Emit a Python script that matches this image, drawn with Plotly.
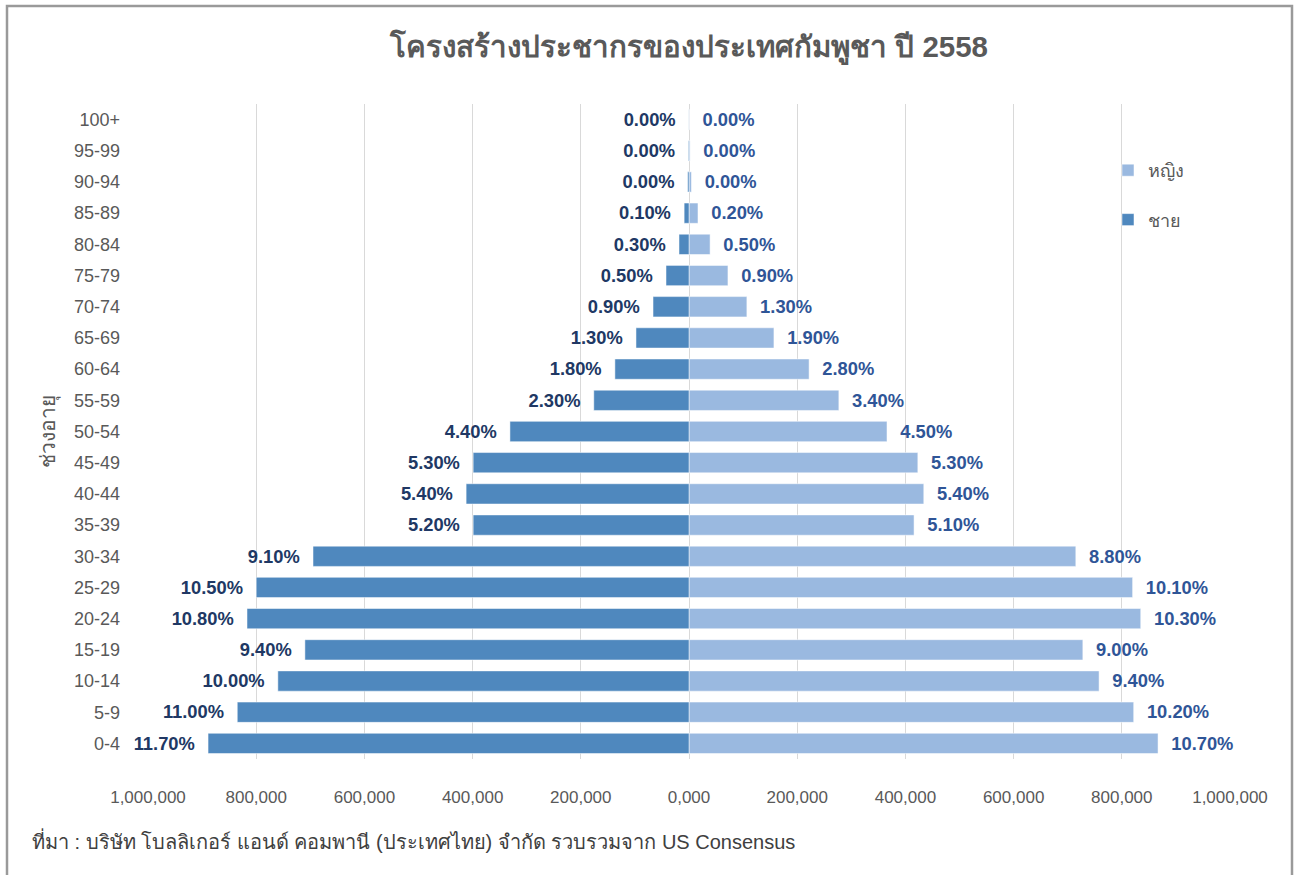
import plotly.graph_objects as go

age_groups = ["0-4", "5-9", "10-14", "15-19", "20-24", "25-29", "30-34", "35-39",
              "40-44", "45-49", "50-54", "55-59", "60-64", "65-69", "70-74",
              "75-79", "80-84", "85-89", "90-94", "95-99", "100+"]
male_pop = [889000, 835000, 760000, 710000, 817000, 800000, 695000, 399000,
            412000, 399000, 331000, 176000, 137000, 98000, 66500,
            42500, 18500, 9000, 2500, 1200, 300]
female_pop = [867000, 822000, 758000, 728000, 835000, 820000, 715000, 416000,
              434000, 423000, 366000, 277000, 222000, 157000, 107000,
              72000, 39000, 16600, 4500, 2000, 600]
male_pct = ["11.70%", "11.00%", "10.00%", "9.40%", "10.80%", "10.50%", "9.10%", "5.20%",
            "5.40%", "5.30%", "4.40%", "2.30%", "1.80%", "1.30%", "0.90%",
            "0.50%", "0.30%", "0.10%", "0.00%", "0.00%", "0.00%"]
female_pct = ["10.70%", "10.20%", "9.40%", "9.00%", "10.30%", "10.10%", "8.80%", "5.10%",
              "5.40%", "5.30%", "4.50%", "3.40%", "2.80%", "1.90%", "1.30%",
              "0.90%", "0.50%", "0.20%", "0.00%", "0.00%", "0.00%"]
tick_vals = [-1000000, -800000, -600000, -400000, -200000, 0,
             200000, 400000, 600000, 800000, 1000000]
tick_text = ["1,000,000", "800,000", "600,000", "400,000", "200,000", "0,000",
             "200,000", "400,000", "600,000", "800,000", "1,000,000"]

title_text = "โครงสร้างประชากรของประเทศกัมพูชา ปี 2558"
source_text = "ที่มา : บริษัท โบลลิเกอร์ แอนด์ คอมพานี (ประเทศไทย) จำกัด รวบรวมจาก US Consensus"

FONT = "Liberation Sans, Arial, Noto Sans, sans-serif"
NB = "\u00a0"

PL, PR, PT, PB = 148, 1230, 104, 759
PW, PH = PR - PL, PB - PT

fig = go.Figure()
fig.add_trace(go.Bar(
    y=age_groups, x=female_pop, orientation="h", name="หญิง",
    marker=dict(color="#9AB9E0", line=dict(color="#FFFFFF", width=0.5)),
    text=[NB * 2 + t for t in female_pct], textposition="outside", cliponaxis=False,
    textfont=dict(family=FONT, size=19, color="#2F5597", weight="bold"),
    legendgroup="f", hoverinfo="skip",
))
fig.add_trace(go.Bar(
    y=age_groups, x=[-v for v in male_pop], orientation="h", name="ชาย",
    marker=dict(color="#4F88BE", line=dict(color="#FFFFFF", width=0.5)),
    text=[t + NB * 2 for t in male_pct], textposition="outside", cliponaxis=False,
    textfont=dict(family=FONT, size=19, color="#203864", weight="bold"),
    legendgroup="m", hoverinfo="skip",
))

fig.update_layout(
    width=1295, height=875,
    paper_bgcolor="white", plot_bgcolor="white",
    barmode="overlay", bargap=0.35,
    margin=dict(l=PL, r=1295 - PR, t=PT, b=875 - PB, autoexpand=False),
    font=dict(family=FONT, color="#595959", size=16),
    title=dict(text="<b>" + title_text + "</b>", x=0.5, xanchor="center",
               y=1 - 47 / 875, yanchor="middle", xref="paper",
               font=dict(family=FONT, size=29.5, color="#595959")),
    xaxis=dict(range=[-1000000, 1000000], tickvals=tick_vals, ticktext=tick_text,
               showgrid=True, gridcolor="#D9D9D9", gridwidth=1, zeroline=False,
               showline=False, ticks="", ticklabelstandoff=26,
               tickfont=dict(size=17, color="#595959")),
    yaxis=dict(categoryorder="array", categoryarray=age_groups, showgrid=False,
               zeroline=False, showline=False, ticks="", ticklabelstandoff=27,
               tickfont=dict(size=18, color="#595959"),
               title=dict(text="ช่วงอายุ", standoff=12,
                          font=dict(size=21, color="#595959"))),
    legend=dict(x=(1108 - PL) / PW, xref="paper", xanchor="left",
                y=(PB - 152) / PH, yref="paper", yanchor="top",
                traceorder="grouped", tracegroupgap=23,
                font=dict(size=18, color="#595959"),
                bgcolor="rgba(0,0,0,0)"),
    showlegend=True,
)

fig.add_annotation(text=source_text, xref="paper", yref="paper",
                   x=(30 - PL) / PW, y=(PB - 840) / PH, xanchor="left",
                   yanchor="middle", showarrow=False,
                   font=dict(family=FONT, size=20, color="#404040"))

fig.add_shape(type="rect", xref="paper", yref="paper",
              x0=(7 - PL) / PW, x1=(1292 - PL) / PW,
              y0=(PB - 890) / PH, y1=(PB - 6) / PH,
              line=dict(color="#9A9A9A", width=2.5), fillcolor="rgba(0,0,0,0)",
              layer="above")

fig.write_html("out.html", config={"displayModeBar": False},
               post_script="document.body.style.margin='0';document.body.style.padding='0';")
